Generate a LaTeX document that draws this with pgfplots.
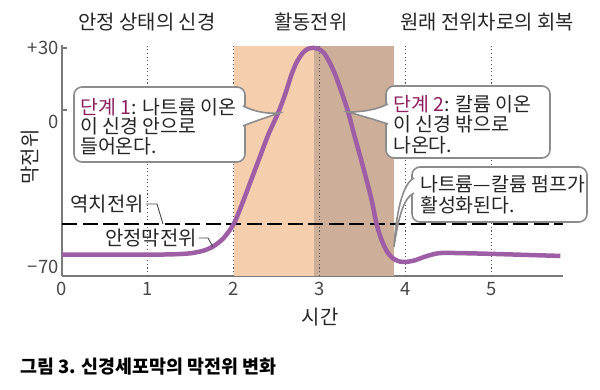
\documentclass[border=0pt]{standalone}
\usepackage{fontspec}
\usepackage{pgfplots}
\pgfplotsset{compat=1.18}
\setmainfont{Noto Sans CJK KR}
\definecolor{peach}{HTML}{F5CFAD}
\definecolor{brownish}{HTML}{CDAE98}
\definecolor{curvecol}{HTML}{9E5EA6}
\definecolor{mag}{HTML}{8E1F5F}
\definecolor{txt}{HTML}{262626}
\definecolor{boxgray}{HTML}{8C8C8C}
\definecolor{axgray}{HTML}{7A7A7A}
\begin{document}
\begin{tikzpicture}
\path[use as bounding box] (0,0) rectangle (600bp,390bp);
\begin{axis}[
  at={(62bp,114bp)}, anchor=south west,
  scale only axis, width=501bp, height=231bp,
  xmin=0, xmax=5.83, ymin=-80.3, ymax=31.4,
  axis lines=left,
  axis line style={-, draw=axgray, line width=1.5bp},
  clip=false,
  xtick={0,1,2,3,4,5},
  xtick style={draw=none},
  xticklabel style={yshift=-3bp},
  ytick={0,30}, yticklabels={{},+30},
  extra y ticks={0,-70}, extra y tick labels={0,−70},
  extra y tick style={major tick length=0pt, yticklabel style={yshift=-12bp}},
  tick align=inside,
  major tick length=5bp,
  tick style={draw=axgray, line width=1.3bp},
  ytick style={draw=axgray, line width=1.3bp},
  ticklabel style={font=\fontsize{18.5}{18.5}\selectfont, text=txt!85},
  /pgf/number format/assume math mode=true,
  xlabel={시간}, ylabel={막전위},
  xlabel style={at={(axis description cs:0.515,-0.177)}, anchor=center, font=\fontsize{20}{20}\selectfont, text=txt},
  ylabel style={at={(axis description cs:-0.064,0.515)}, anchor=center, font=\fontsize{20}{20}\selectfont, text=txt},
]
% shaded phases
\addplot[fill=peach, draw=none] coordinates {(2,-80.3) (2.93,-80.3) (2.93,31) (2,31)} -- cycle;
\addplot[fill=brownish, draw=none] coordinates {(2.93,-80.3) (3.86,-80.3) (3.86,31) (2.93,31)} -- cycle;
% dotted guides
\addplot[axgray!70!black, line width=1.1bp, dash pattern=on 1.1bp off 2.6bp] coordinates {(1,-80.3) (1,31)};
\addplot[axgray!70!black, line width=1.1bp, dash pattern=on 1.1bp off 2.6bp] coordinates {(2,-80.3) (2,31)};
\addplot[axgray!70!black, line width=1.1bp, dash pattern=on 1.1bp off 2.6bp] coordinates {(3,-80.3) (3,31)};
\addplot[axgray!70!black, line width=1.1bp, dash pattern=on 1.1bp off 2.6bp] coordinates {(4,-80.3) (4,31)};
\addplot[axgray!70!black, line width=1.1bp, dash pattern=on 1.1bp off 2.6bp] coordinates {(5,-80.3) (5,31)};
% threshold
\addplot[black, line width=2bp, dash pattern=on 15bp off 5.5bp] coordinates {(0,-55) (5.83,-55)};
% membrane potential
\addplot[curvecol, line width=4.5bp, smooth, tension=0.45] coordinates {
(0,-70) (0.5,-70) (1.0,-70) (1.3,-69.8) (1.5,-69.3) (1.65,-68) (1.76,-66) (1.88,-62)
(2.0,-55) (2.1,-45) (2.2,-34) (2.3,-23) (2.4,-12) (2.52,-1) (2.6,8) (2.67,17)
(2.73,23) (2.8,27.5) (2.86,29.5) (2.92,30) (2.98,29.6) (3.05,27.5) (3.12,22.5)
(3.18,17) (3.25,9) (3.33,-1) (3.4,-12) (3.5,-27) (3.6,-43) (3.66,-55) (3.72,-63)
(3.79,-69) (3.86,-72) (3.93,-73.3) (4.0,-73.5) (4.1,-72.8) (4.2,-71.3) (4.3,-70)
(4.4,-69.2) (4.6,-69.2) (5.0,-69.6) (5.4,-70.1) (5.8,-70.6)};
\end{axis}
\begin{scope}[shift={(0,390bp)}, x=1bp, y=-1bp]
% titles
\node[font=\fontsize{20}{20}\selectfont, text=txt] at (147,22) {안정 상태의 신경};
\node[font=\fontsize{20}{20}\selectfont, text=txt] at (311,22) {활동전위};
\node[font=\fontsize{20}{20}\selectfont, text=txt] at (487,22) {원래 전위차로의 회복};
% labels with leaders
\node[anchor=east, inner sep=1bp, font=\fontsize{20}{20}\selectfont, text=txt] at (145,204) {역치전위};
\draw[txt!85, line width=0.9bp] (146,204) -- (157,204) -- (163,224);
\node[anchor=east, inner sep=1bp, font=\fontsize{20}{20}\selectfont, text=txt] at (198,238) {안정막전위};
\draw[txt!85, line width=0.9bp] (199,238) -- (208,238) -- (213,247);
% callout 1
\draw[boxgray, line width=1.6bp, fill=white, rounded corners=8bp] (74,87) rectangle (245,162);
\filldraw[boxgray, fill=white, line width=1.6bp] (243,106) .. controls (255,112) and (268,114) .. (279,113) .. controls (268,117) and (255,121) .. (243,126);
\node[anchor=north west, inner sep=0pt, align=left, font=\fontsize{19.5}{19.5}\selectfont, text=txt] at (80,98) {{\color{mag}단계 1}: 나트륨 이온\\이 신경 안으로\\들어온다.};
% callout 2
\draw[boxgray, line width=1.6bp, fill=white, rounded corners=8bp] (386,86) rectangle (550,158);
\filldraw[boxgray, fill=white, line width=1.6bp] (388,104) .. controls (376,110) and (362,112) .. (348,112) .. controls (362,116) and (376,120) .. (388,124);
\node[anchor=north west, inner sep=0pt, align=left, font=\fontsize{19.5}{20.5}\selectfont, text=txt] at (393,95) {{\color{mag}단계 2}: 칼륨 이온\\이 신경 밖으로\\나온다.};
% callout 3
\draw[boxgray, line width=1.6bp, fill=white, rounded corners=8bp] (412,167) rectangle (587,222);
\filldraw[boxgray, fill=white, line width=1.6bp] (414,178) .. controls (402,184) and (396,215) .. (394,247) .. controls (398,220) and (403,198) .. (414,193);
\node[anchor=north west, inner sep=0pt, align=left, font=\fontsize{19.5}{21}\selectfont, text=txt] at (420,175) {나트륨—칼륨 펌프가\\활성화된다.};
% caption
\node[anchor=west, inner sep=0pt, font=\bfseries\fontsize{18.5}{18.5}\selectfont, text=black] at (20,367) {그림 3. 신경세포막의 막전위 변화};
\end{scope}
\end{tikzpicture}
\end{document}
